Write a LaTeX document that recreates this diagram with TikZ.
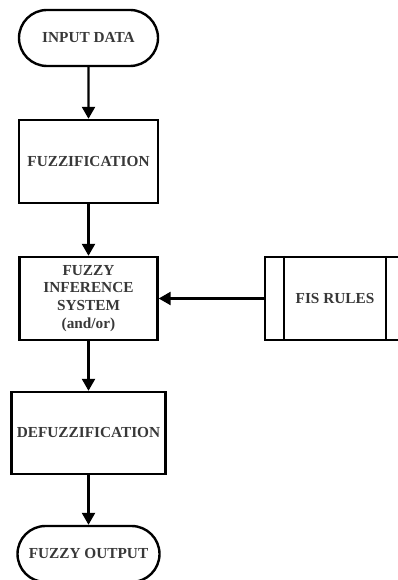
\documentclass[tikz,border=0pt]{standalone}
\usepackage{fontspec}
\setmainfont{Liberation Serif}
\usepackage{tikz}
\usetikzlibrary{arrows.meta,shapes.misc,positioning}

\begin{document}
\begin{tikzpicture}[x=1pt,y=1pt,line width=2.4pt,
  every node/.style={font=\fontsize{15.3}{17.8}\selectfont\bfseries,text=black!78},
  term/.style={draw=black,rounded rectangle,minimum width=139pt,minimum height=56pt,inner sep=0pt},
  procbox/.style={draw=black,rectangle,minimum height=83pt,inner sep=0pt,align=center},
  flow/.style={draw=black,-{Triangle[width=13pt,length=12pt]}}]
\useasboundingbox (0,0) rectangle (398,580);
\clip (0,0) rectangle (398,580);
\node[term] (indata) at (88.5,542) {INPUT DATA};
\node[procbox,minimum width=139pt] (fuzz) at (88.5,418.5) {FUZZIFICATION};
\node[procbox,minimum width=138pt] (fis) at (88.5,281.5) {FUZZY\\INFERENCE\\SYSTEM\\(and/or)};
\node[procbox,minimum width=140pt] (rules) at (335,281.5) {FIS RULES};
\node[procbox,minimum width=154pt,minimum height=82pt] (defuzz) at (88.5,147) {DEFUZZIFICATION};
\node[term,minimum width=142pt] (outdata) at (88.5,26) {FUZZY OUTPUT};
% side bars of the predefined process
\draw (rules.north west) ++(20,0) -- ++(0,-83);
\draw (rules.north east) ++(-20,0) -- ++(0,-83);
\draw[flow] (indata) -- (fuzz);
\draw[flow] (fuzz) -- (fis);
\draw[flow] (rules) -- (fis);
\draw[flow] (fis) -- (defuzz);
\draw[flow] (defuzz) -- (outdata);
\end{tikzpicture}
\end{document}
